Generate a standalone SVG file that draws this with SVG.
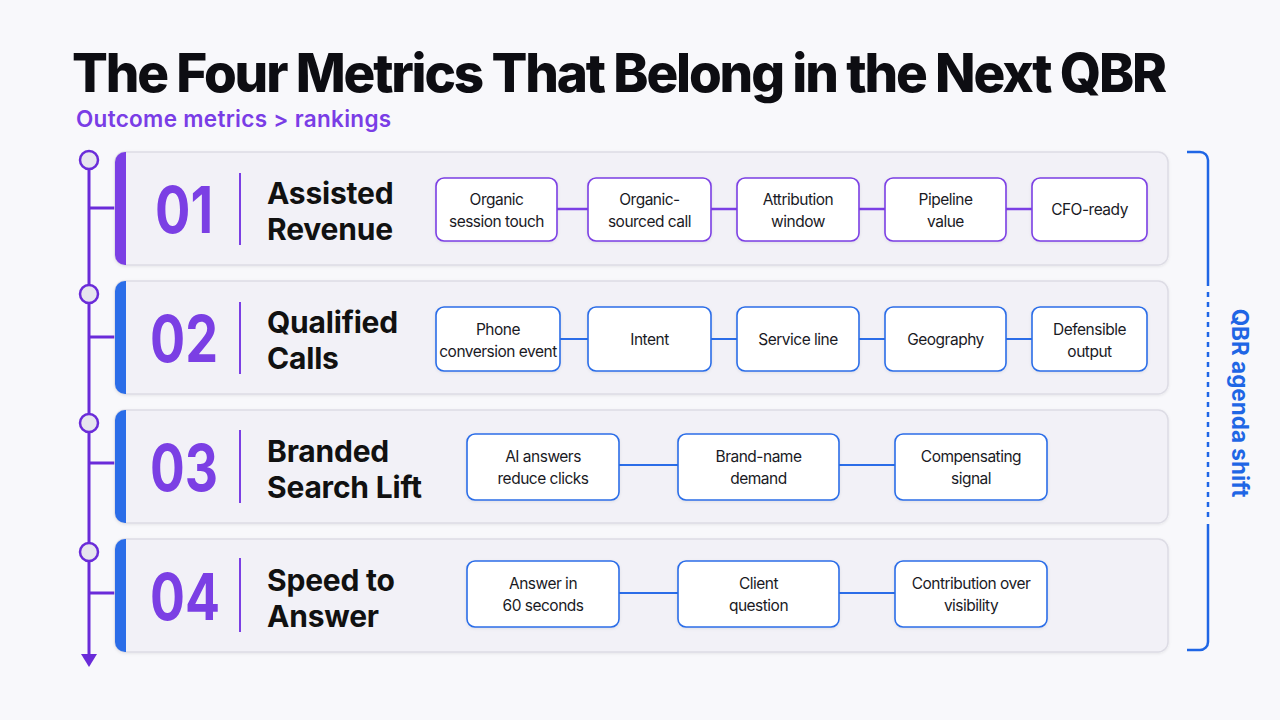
<svg xmlns="http://www.w3.org/2000/svg" width="1280" height="720" viewBox="0 0 1280 720">
<defs>
<style>
.title{font-family:Inter,"Liberation Sans",sans-serif;font-weight:800;font-size:53px;fill:#0d0d12;letter-spacing:-2.15px}
.sub{font-family:Inter,"Liberation Sans",sans-serif;font-weight:600;font-size:22.5px;fill:#7a3de6;letter-spacing:0.3px}
.card{fill:#f2f1f7;stroke:#dddce5;stroke-width:1.5}
.num{font-family:Inter,"Liberation Sans",sans-serif;font-weight:700;font-size:64px;fill:#7b3fe4;text-anchor:middle}
.lbl{font-family:Inter,"Liberation Sans",sans-serif;font-weight:700;font-size:30px;fill:#111;letter-spacing:-0.2px}
.div{stroke:#7b3fe4;stroke-width:2}
.chipP{fill:#fff;stroke:#7b3fe4;stroke-width:1.6}
.chipB{fill:#fff;stroke:#2b6de8;stroke-width:1.6}
.ct{font-family:Inter,"Liberation Sans",sans-serif;font-size:15.5px;fill:#1a1a1f;text-anchor:middle;letter-spacing:-0.5px}
.cp{stroke:#7b3fe4;stroke-width:2.5}
.cb{stroke:#2b6de8;stroke-width:2}
.tl{stroke:#6a2bd9;stroke-width:3;fill:none}
.dot{fill:#e7e5ee;stroke:#6a2bd9;stroke-width:2.5}
.br{stroke:#1f66e5;stroke-width:2.5;fill:none}
.side{font-family:Inter,"Liberation Sans",sans-serif;font-weight:700;font-size:22.5px;fill:#1f66e5;text-anchor:middle}
</style>
<filter id="sh" x="-5%" y="-20%" width="110%" height="150%"><feDropShadow dx="0" dy="1" stdDeviation="1.5" flood-color="#000" flood-opacity="0.08"/></filter>
</defs>
<rect width="1280" height="720" fill="#f8f8fb"/>
<text class="title" x="72" y="92">The Four Metrics That Belong in the Next QBR</text>
<text class="sub" x="76" y="127">Outcome metrics &gt; rankings</text>

<g id="timeline">
<line class="tl" x1="89" y1="169" x2="89" y2="656"/>
<line class="tl" x1="89" y1="208" x2="116" y2="208"/>
<line class="tl" x1="89" y1="337" x2="116" y2="337"/>
<line class="tl" x1="89" y1="463" x2="116" y2="463"/>
<line class="tl" x1="89" y1="593" x2="116" y2="593"/>
<polygon points="81,654 97,654 89,667" fill="#6a2bd9"/>
<circle class="dot" cx="89" cy="160" r="9"/>
<circle class="dot" cx="89" cy="294" r="9"/>
<circle class="dot" cx="89" cy="423" r="9"/>
<circle class="dot" cx="89" cy="552" r="9"/>
</g>

<g id="card1">
<rect class="card" x="115" y="152" width="1053" height="113" rx="10" filter="url(#sh)"/>
<path d="M126,152 H125 A10,10 0 0 0 115,162 V255 A10,10 0 0 0 125,265 H126 Z" fill="#7b3fe4"/>
<text class="num" x="184" y="233" textLength="58" lengthAdjust="spacingAndGlyphs">01</text>
<line class="div" x1="240" y1="173" x2="240" y2="245"/>
<text class="lbl" x="267" y="204">Assisted</text>
<text class="lbl" x="267" y="240">Revenue</text>
</g>
<g id="card2">
<rect class="card" x="115" y="281" width="1053" height="113" rx="10" filter="url(#sh)"/>
<path d="M126,281 H125 A10,10 0 0 0 115,291 V384 A10,10 0 0 0 125,394 H126 Z" fill="#2b6de8"/>
<text class="num" x="184" y="362" textLength="68" lengthAdjust="spacingAndGlyphs">02</text>
<line class="div" x1="240" y1="302" x2="240" y2="374"/>
<text class="lbl" x="267" y="333">Qualified</text>
<text class="lbl" x="267" y="369">Calls</text>
</g>
<g id="card3">
<rect class="card" x="115" y="410" width="1053" height="113" rx="10" filter="url(#sh)"/>
<path d="M126,410 H125 A10,10 0 0 0 115,420 V513 A10,10 0 0 0 125,523 H126 Z" fill="#2b6de8"/>
<text class="num" x="184" y="491" textLength="68" lengthAdjust="spacingAndGlyphs">03</text>
<line class="div" x1="240" y1="430" x2="240" y2="503"/>
<text class="lbl" x="267" y="462">Branded</text>
<text class="lbl" x="267" y="498">Search Lift</text>
</g>
<g id="card4">
<rect class="card" x="115" y="539" width="1053" height="113" rx="10" filter="url(#sh)"/>
<path d="M126,539 H125 A10,10 0 0 0 115,549 V642 A10,10 0 0 0 125,652 H126 Z" fill="#2b6de8"/>
<text class="num" x="185" y="620" textLength="70" lengthAdjust="spacingAndGlyphs">04</text>
<line class="div" x1="240" y1="558" x2="240" y2="632"/>
<text class="lbl" x="267" y="591">Speed to</text>
<text class="lbl" x="267" y="627">Answer</text>
</g>

<g id="connectors">
<line class="cp" x1="557" y1="209" x2="588" y2="209"/>
<line class="cp" x1="711" y1="209" x2="737" y2="209"/>
<line class="cp" x1="859" y1="209" x2="885" y2="209"/>
<line class="cp" x1="1006" y1="209" x2="1032" y2="209"/>
<line class="cb" x1="560" y1="339" x2="588" y2="339"/>
<line class="cb" x1="711" y1="339" x2="737" y2="339"/>
<line class="cb" x1="859" y1="339" x2="885" y2="339"/>
<line class="cb" x1="1006" y1="339" x2="1032" y2="339"/>
<line class="cb" x1="619" y1="465" x2="678" y2="465"/>
<line class="cb" x1="839" y1="465" x2="895" y2="465"/>
<line class="cb" x1="619" y1="593" x2="678" y2="593"/>
<line class="cb" x1="839" y1="593" x2="895" y2="593"/>
</g>

<g id="r1c1"><rect class="chipP" x="436" y="178" width="121" height="63" rx="8" filter="url(#sh)"/><text class="ct" x="496.5" y="205">Organic</text><text class="ct" x="496.5" y="227">session touch</text></g>
<g id="r1c2"><rect class="chipP" x="588" y="178" width="123" height="63" rx="8" filter="url(#sh)"/><text class="ct" x="649.5" y="205">Organic-</text><text class="ct" x="649.5" y="227">sourced call</text></g>
<g id="r1c3"><rect class="chipP" x="737" y="178" width="122" height="63" rx="8" filter="url(#sh)"/><text class="ct" x="798" y="205">Attribution</text><text class="ct" x="798" y="227">window</text></g>
<g id="r1c4"><rect class="chipP" x="885" y="178" width="121" height="63" rx="8" filter="url(#sh)"/><text class="ct" x="945.5" y="205">Pipeline</text><text class="ct" x="945.5" y="227">value</text></g>
<g id="r1c5"><rect class="chipP" x="1032" y="178" width="115" height="63" rx="8" filter="url(#sh)"/><text class="ct" x="1089.5" y="215">CFO-ready</text></g>

<g id="r2c1"><rect class="chipB" x="436" y="307" width="124" height="64" rx="8" filter="url(#sh)"/><text class="ct" x="498" y="335">Phone</text><text class="ct" x="498" y="357">conversion event</text></g>
<g id="r2c2"><rect class="chipB" x="588" y="307" width="123" height="64" rx="8" filter="url(#sh)"/><text class="ct" x="649.5" y="345">Intent</text></g>
<g id="r2c3"><rect class="chipB" x="737" y="307" width="122" height="64" rx="8" filter="url(#sh)"/><text class="ct" x="798" y="345">Service line</text></g>
<g id="r2c4"><rect class="chipB" x="885" y="307" width="121" height="64" rx="8" filter="url(#sh)"/><text class="ct" x="945.5" y="345">Geography</text></g>
<g id="r2c5"><rect class="chipB" x="1032" y="307" width="115" height="64" rx="8" filter="url(#sh)"/><text class="ct" x="1089.5" y="335">Defensible</text><text class="ct" x="1089.5" y="357">output</text></g>

<g id="r3c1"><rect class="chipB" x="467" y="434" width="152" height="66" rx="8" filter="url(#sh)"/><text class="ct" x="543" y="462">AI answers</text><text class="ct" x="543" y="484">reduce clicks</text></g>
<g id="r3c2"><rect class="chipB" x="678" y="434" width="161" height="66" rx="8" filter="url(#sh)"/><text class="ct" x="758.5" y="462">Brand-name</text><text class="ct" x="758.5" y="484">demand</text></g>
<g id="r3c3"><rect class="chipB" x="895" y="434" width="152" height="66" rx="8" filter="url(#sh)"/><text class="ct" x="971" y="462">Compensating</text><text class="ct" x="971" y="484">signal</text></g>

<g id="r4c1"><rect class="chipB" x="467" y="561" width="152" height="66" rx="8" filter="url(#sh)"/><text class="ct" x="543" y="589">Answer in</text><text class="ct" x="543" y="611">60 seconds</text></g>
<g id="r4c2"><rect class="chipB" x="678" y="561" width="161" height="66" rx="8" filter="url(#sh)"/><text class="ct" x="758.5" y="589">Client</text><text class="ct" x="758.5" y="611">question</text></g>
<g id="r4c3"><rect class="chipB" x="895" y="561" width="152" height="66" rx="8" filter="url(#sh)"/><text class="ct" x="971" y="589">Contribution over</text><text class="ct" x="971" y="611">visibility</text></g>

<g id="bracket">
<path class="br" d="M1187,152 H1200 A8,8 0 0 1 1208,160 V286"/>
<line class="br" x1="1208" y1="292" x2="1208" y2="520" stroke-dasharray="5,5"/>
<path class="br" d="M1208,524 V642 A8,8 0 0 1 1200,650 H1187"/>
<text class="side" transform="translate(1232,403) rotate(90)">QBR agenda shift</text>
</g>
</svg>
